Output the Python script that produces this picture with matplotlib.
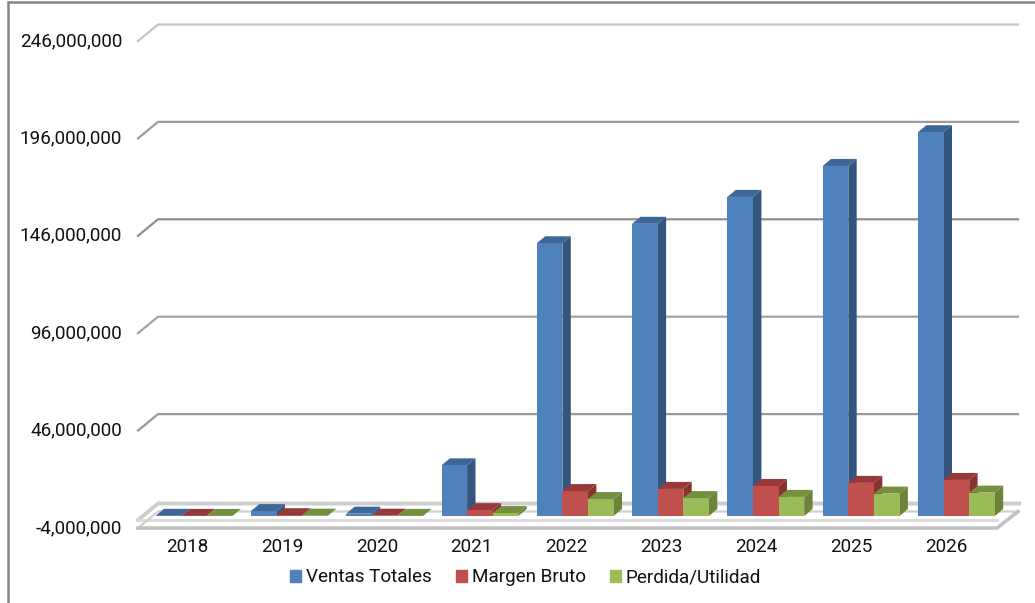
import matplotlib
matplotlib.use("Agg")
import matplotlib.pyplot as plt
from matplotlib.patches import Patch
from matplotlib.lines import Line2D
from matplotlib.transforms import ScaledTranslation

plt.rcParams['font.family'] = ['Roboto', 'DejaVu Sans']

years = ['2018', '2019', '2020', '2021', '2022', '2023', '2024', '2025', '2026']
ventas = [0.1e6, 2.5e6, 1.2e6, 26e6, 140e6, 150e6, 163.8e6, 179.7e6, 197e6]
margen = [0.05e6, 0.4e6, 0.15e6, 3e6, 12.8e6, 13.9e6, 15.4e6, 17e6, 18.5e6]
perdida = [0.03e6, 0.15e6, 0.05e6, 1.5e6, 8.7e6, 9.2e6, 9.8e6, 11.5e6, 12e6]
names = ['Ventas Totales', 'Margen Bruto', 'Perdida/Utilidad']
axis_ticks = [-4e6, 46e6, 96e6, 146e6, 196e6, 246e6]

W, H = 1035, 603
fig = plt.figure(figsize=(W / 100, H / 100), dpi=100, facecolor='white')
ax = fig.add_axes([0, 0, 1, 1])

# pixel calibration of the front plane of the value axis
PX_PER_UNIT = 1.948 / 1e6
Y_M4 = 528.0
X0, X_STEP = 194.0, 95.3
ax.set_xlim((0 - X0) / X_STEP, (W - X0) / X_STEP)
ax.set_ylim(-4e6 - (H - Y_M4) / PX_PER_UNIT, -4e6 + Y_M4 / PX_PER_UNIT)
for s in ax.spines.values():
    s.set_visible(False)

def xpx(p):
    return (p - X0) / X_STEP
def dpx(p):
    return p / PX_PER_UNIT

# walls and floor
GRID_LEFT, WALL_LEFT, WALL_RIGHT = 138, 158, 1018
DEPTH = 16.5
grid_colors = ['#a6a6a6', '#9a9a9a', '#a3a3a3', '#8f8f8f', '#9c9c9c', '#c4c4c4']
for v, c in zip(axis_ticks[1:], grid_colors[1:]):
    yb = v + dpx(DEPTH)
    ax.plot([xpx(GRID_LEFT), xpx(WALL_LEFT), xpx(WALL_RIGHT)], [v, yb, yb],
            color=c, lw=1.6, solid_joinstyle='miter', zorder=1)
zero_y = axis_ticks[0] + dpx(8.0)
# floor at zero level
ax.plot([xpx(GRID_LEFT), xpx(WALL_LEFT), xpx(WALL_RIGHT + 1)],
        [zero_y, zero_y + dpx(DEPTH), zero_y + dpx(DEPTH)], color='#cdcdcd', lw=2.8, zorder=1)
ax.plot([xpx(GRID_LEFT), xpx(997)], [zero_y, zero_y], color='#dcdcdc', lw=2.2, zorder=1)
# floor base
m4 = axis_ticks[0]
ax.plot([xpx(GRID_LEFT), xpx(WALL_LEFT), xpx(WALL_RIGHT)],
        [m4, m4 + dpx(DEPTH), m4 + dpx(DEPTH)], color='#d0d0d0', lw=1.6, zorder=1)
ax.plot([xpx(GRID_LEFT), xpx(997), xpx(WALL_RIGHT)],
        [m4, m4, m4 + dpx(DEPTH)], color='#c2c2c2', lw=2.6, solid_joinstyle='miter', zorder=1)

# 3-D looking bars
BW = 25.6 / X_STEP
DX, DY = 8.4 / X_STEP, dpx(7.0)
BASE = dpx(528.0 - 516.0) - 4e6
series = [
    (ventas, '#4f81bd', '#33557f', '#3c6798', -1),
    (margen, '#c0504d', '#8a3230', '#97393a', 0),
    (perdida, '#9bbb59', '#6a8539', '#748f3f', 1),
]
for i in range(len(years)):
    for vals, front, side, top, off in series:
        v = vals[i]
        x0 = i + off * BW - BW / 2
        x1 = x0 + BW
        y1 = BASE + v
        z = 3 + i + (off + 1) * 0.1
        ax.fill([x1, x1 + DX, x1 + DX, x1], [BASE, BASE + DY, y1 + DY, y1], color=side, lw=0, zorder=z)
        ax.fill([x0, x0 + DX, x1 + DX, x1], [y1, y1 + DY, y1 + DY, y1], color=top, lw=0, zorder=z)
        ax.bar(x0, v, width=BW, bottom=BASE, align='edge', color=front, lw=0, zorder=z)

FS = 13.6
# value and category labels
ax.set_yticks(axis_ticks)
ax.set_yticklabels([f'{int(v):,}' for v in axis_ticks])
ax.tick_params(axis='y', length=0, pad=-88, labelsize=FS, labelcolor='#111111')
up = ScaledTranslation(0, 2 / 100, fig.dpi_scale_trans)
for t in ax.get_yticklabels():
    t.set_ha('right')
    t.set_transform(t.get_transform() + up)
ax.set_xticks([xpx(187 + 94.9 * i) for i in range(len(years))])
ax.set_xticklabels(years)
ax.tick_params(axis='x', length=0, labelsize=FS, labelcolor='#111111')
for t in ax.get_xticklabels():
    t.set_transform(ax.get_xaxis_transform())
    t.set_verticalalignment('center')
    t.set_position((t.get_position()[0], 1 - 547 / H))

# legend
handles = [Patch(color=c, label=n) for n, (_, c, _, _, _) in zip(names, series)]
ax.legend(handles=handles, ncol=3, loc='center', bbox_to_anchor=(525.5 / W, 1 - 577.5 / H),
          bbox_transform=fig.transFigure, frameon=False, fontsize=FS, handlelength=0.58,
          handleheight=0.58, handletextpad=0.25, columnspacing=1.3, labelcolor='#111111')

# chart frame
fig.add_artist(Line2D([7.5 / W, 7.5 / W, 1], [0, 1 - 1.5 / H, 1 - 1.5 / H], color='#868686', lw=1.8,
                      solid_joinstyle='miter'))

fig.savefig('out.png', dpi=100)
